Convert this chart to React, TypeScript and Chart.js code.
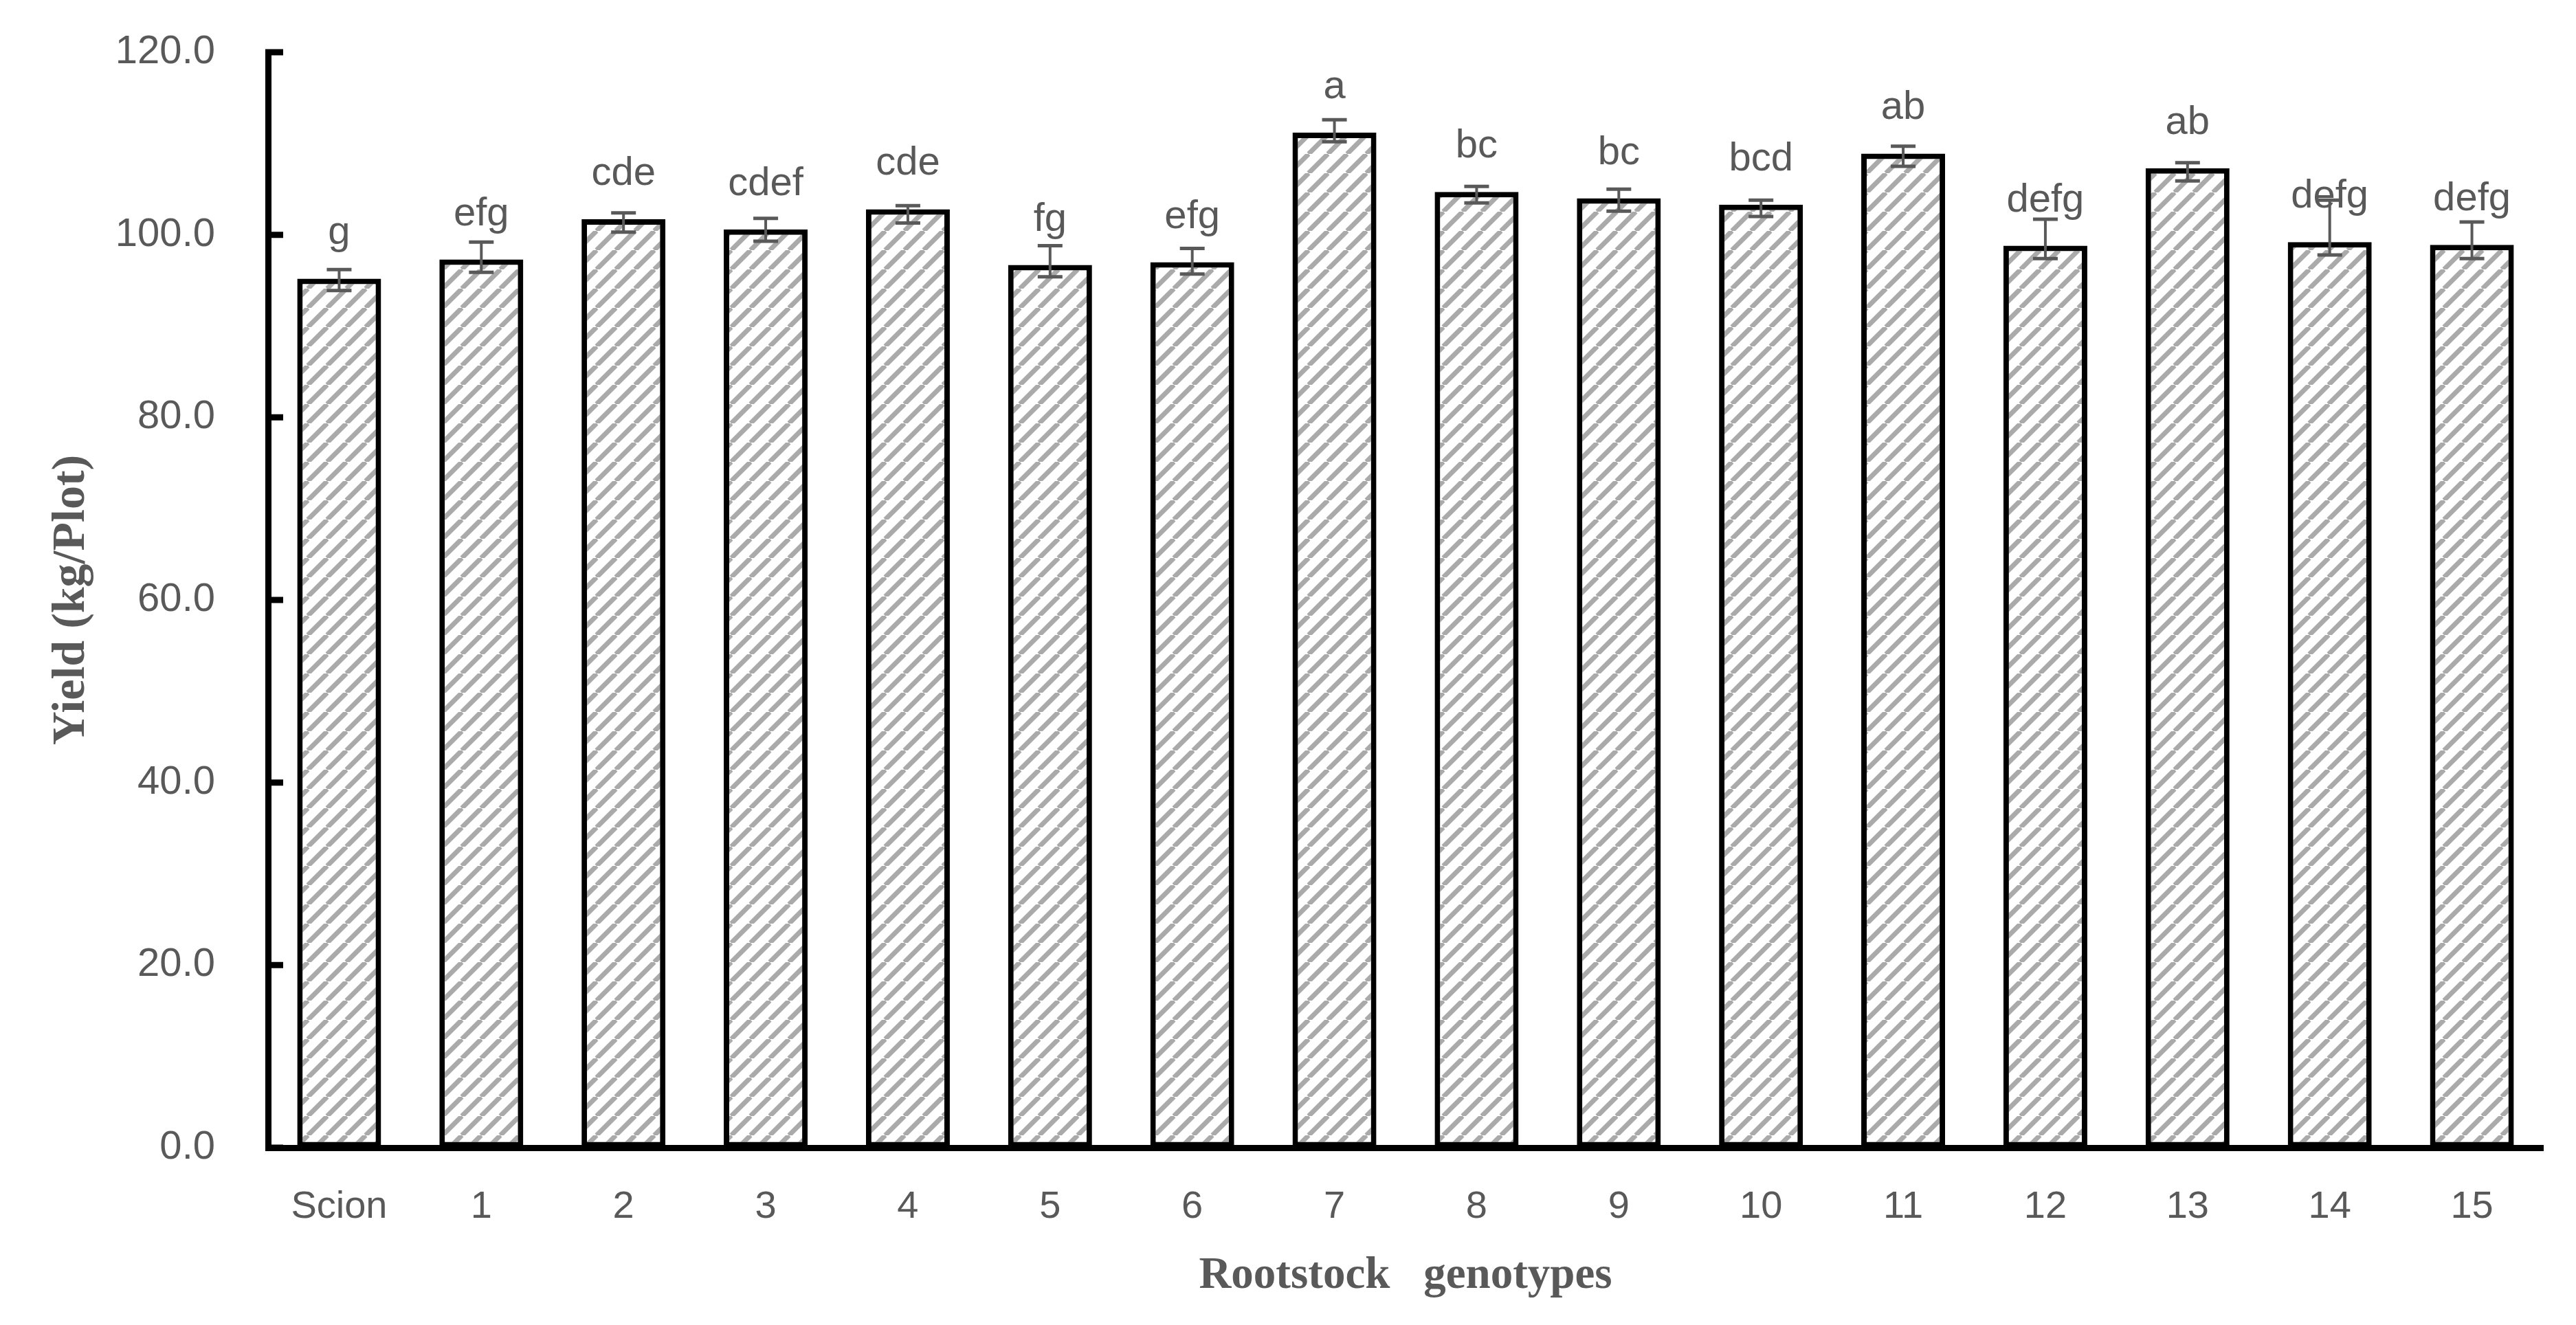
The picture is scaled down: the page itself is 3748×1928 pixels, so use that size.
import React, { useEffect, useRef } from 'react';
import { Chart, registerables } from 'chart.js';

Chart.register(...registerables);

// ---------------- data ----------------
const categories = ['Scion', '1', '2', '3', '4', '5', '6', '7', '8', '9', '10', '11', '12', '13', '14', '15'];
const yieldValues = [95.2, 97.3, 101.7, 100.6, 102.8, 96.7, 97.0, 111.2, 104.7, 104.0, 103.3, 108.9, 98.8, 107.3, 99.2, 98.9];
const errorHigh = [96.2, 99.2, 102.4, 101.8, 103.2, 98.8, 98.5, 112.6, 105.3, 105.0, 103.8, 109.7, 101.7, 107.9, 103.8, 101.4];
const errorLow = [93.9, 95.9, 100.3, 99.3, 101.3, 95.4, 95.7, 110.2, 103.5, 102.6, 102.0, 107.5, 97.4, 105.9, 97.8, 97.4];
const groupLetters = ['g', 'efg', 'cde', 'cdef', 'cde', 'fg', 'efg', 'a', 'bc', 'bc', 'bcd', 'ab', 'defg', 'ab', 'defg', 'defg'];
const yTickValues = [0, 20, 40, 60, 80, 100, 120];
const yAxisTitle = 'Yield (kg/Plot)';
const xAxisTitle = 'Rootstock   genotypes';

const W = 3748;
const H = 1928;
const TEXT = '#595959';
const SANS = '"Liberation Sans", Arial, sans-serif';
const SERIF = '"Liberation Serif", "Times New Roman", serif';

function makeHatch(ctx: CanvasRenderingContext2D): CanvasPattern | string {
  const size = 28;
  const pc = document.createElement('canvas');
  pc.width = size;
  pc.height = size;
  const p = pc.getContext('2d');
  if (!p) return '#ddd';
  p.fillStyle = '#ffffff';
  p.fillRect(0, 0, size, size);
  p.strokeStyle = '#aaaaaa';
  p.lineWidth = 7;
  p.beginPath();
  for (const k of [-1, 0, 1]) {
    p.moveTo(k * size, size);
    p.lineTo(k * size + size, 0);
  }
  p.stroke();
  return ctx.createPattern(pc, 'repeat') || '#ddd';
}

const extrasPlugin = {
  id: 'extras',
  afterDatasetsDraw(chart: any) {
    const ctx: CanvasRenderingContext2D = chart.ctx;
    const yScale = chart.scales.y;
    const meta = chart.getDatasetMeta(0);
    ctx.save();
    // error bars
    ctx.strokeStyle = TEXT;
    ctx.lineCap = 'butt';
    meta.data.forEach((bar: any, i: number) => {
      const x = bar.x;
      const yHi = yScale.getPixelForValue(errorHigh[i]);
      const yLo = yScale.getPixelForValue(errorLow[i]);
      ctx.lineWidth = 4;
      ctx.beginPath();
      ctx.moveTo(x, yHi);
      ctx.lineTo(x, yLo);
      ctx.stroke();
      ctx.lineWidth = 5;
      ctx.beginPath();
      ctx.moveTo(x - 18, yHi);
      ctx.lineTo(x + 18, yHi);
      ctx.moveTo(x - 18, yLo);
      ctx.lineTo(x + 18, yLo);
      ctx.stroke();
    });
    // group letters
    ctx.fillStyle = TEXT;
    ctx.font = `58px ${SANS}`;
    ctx.textAlign = 'center';
    ctx.textBaseline = 'alphabetic';
    meta.data.forEach((bar: any, i: number) => {
      ctx.fillText(groupLetters[i], bar.x, bar.y - 50);
    });
    ctx.restore();
  },
  afterDraw(chart: any) {
    const ctx: CanvasRenderingContext2D = chart.ctx;
    const yScale = chart.scales.y;
    const left = chart.chartArea.left;
    ctx.save();
    ctx.strokeStyle = '#000';
    ctx.lineWidth = 9;
    ctx.beginPath();
    yTickValues.forEach((v) => {
      const y = yScale.getPixelForValue(v);
      ctx.moveTo(left - 4, y);
      ctx.lineTo(left + 22, y);
    });
    ctx.stroke();
    ctx.restore();
  },
};

export default function App() {
  const ref = useRef<HTMLCanvasElement | null>(null);

  useEffect(() => {
    const canvas = ref.current;
    if (!canvas) return;
    const ctx = canvas.getContext('2d');
    if (!ctx) return;
    const hatch = makeHatch(ctx);

    const chart = new Chart(canvas, {
      type: 'bar',
      data: {
        labels: categories,
        datasets: [
          {
            data: yieldValues,
            backgroundColor: hatch as any,
            borderColor: '#000000',
            borderWidth: 8,
            borderSkipped: false,
            barPercentage: 0.59,
            categoryPercentage: 1,
          },
        ],
      },
      options: {
        responsive: false,
        devicePixelRatio: 1,
        animation: false,
        layout: { padding: { left: 0, top: 76, right: 48, bottom: 0 } },
        plugins: {
          legend: { display: false },
          tooltip: { enabled: false },
        },
        scales: {
          x: {
            grid: { display: true, drawOnChartArea: false, drawTicks: false },
            border: { display: true, color: '#000000', width: 9 },
            ticks: {
              color: TEXT,
              font: { family: SANS, size: 56 },
              padding: 53,
              maxRotation: 0,
              autoSkip: false,
            },
            title: {
              display: true,
              text: xAxisTitle,
              color: TEXT,
              font: { family: SERIF, size: 65, weight: 'bold' },
              padding: { top: 0, bottom: 32 },
            },
            afterFit: (scale: any) => {
              scale.height = 258;
              scale.paddingLeft = 0;
              scale.paddingRight = 0;
            },
          },
          y: {
            min: 0,
            max: 120,
            grid: { display: true, drawOnChartArea: false, drawTicks: false },
            border: { display: true, color: '#000000', width: 9 },
            ticks: {
              stepSize: 20,
              color: TEXT,
              font: { family: SANS, size: 58 },
              padding: 77,
              callback: (v: any) => Number(v).toFixed(1),
            },
            title: {
              display: true,
              text: yAxisTitle,
              color: TEXT,
              font: { family: SERIF, size: 68, weight: 'bold' },
              padding: { top: 64, bottom: 0 },
            },
            afterFit: (scale: any) => {
              scale.width = 390;
              scale.paddingTop = 0;
              scale.paddingBottom = 0;
            },
          },
        },
      },
      plugins: [extrasPlugin],
    });

    return () => {
      chart.destroy();
    };
  }, []);

  return (
    <div style={{ position: 'fixed', left: 0, top: 0, width: W, height: H, background: '#ffffff' }}>
      <canvas ref={ref} width={W} height={H} style={{ width: `${W}px`, height: `${H}px`, display: 'block' }} />
    </div>
  );
}
